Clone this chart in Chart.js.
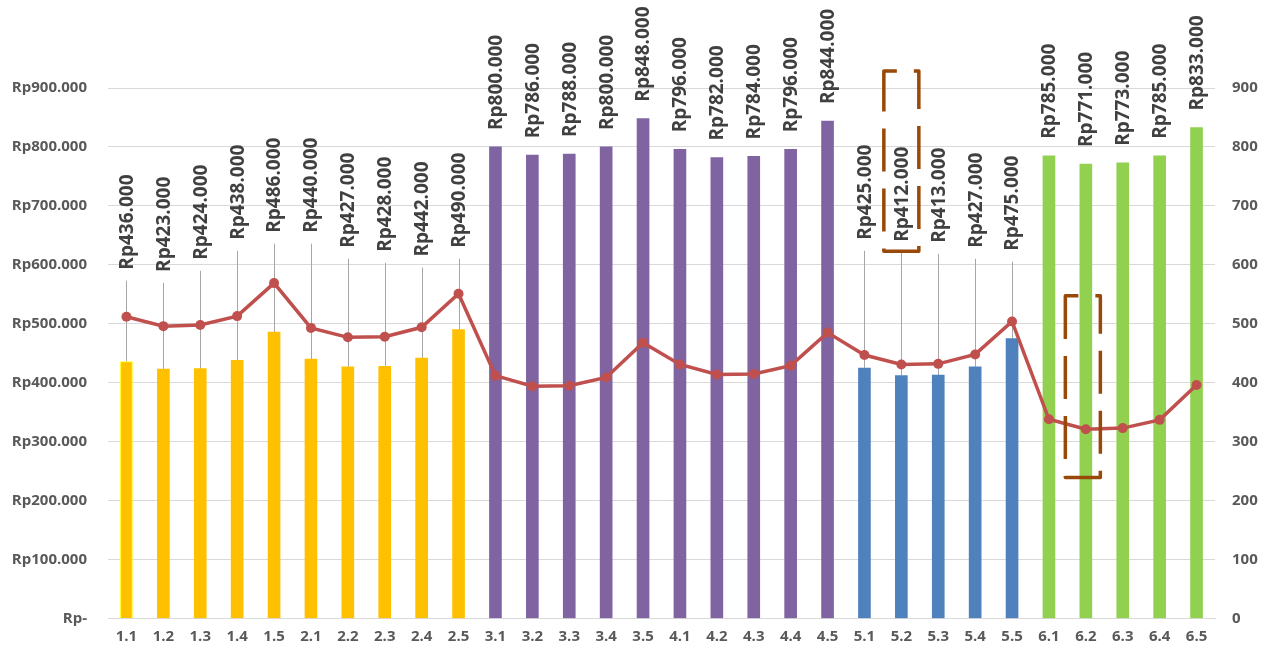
<!DOCTYPE html>
<html><head><meta charset="utf-8">
<script src="https://cdn.jsdelivr.net/npm/chart.js@4"></script>
<style>html,body{margin:0;padding:0;background:#fff;overflow:hidden}</style>
</head><body>
<canvas id="c" width="1270" height="650"></canvas>
<script>
const categories = ['1.1','1.2','1.3','1.4','1.5','2.1','2.2','2.3','2.4','2.5',
  '3.1','3.2','3.3','3.4','3.5','4.1','4.2','4.3','4.4','4.5',
  '5.1','5.2','5.3','5.4','5.5','6.1','6.2','6.3','6.4','6.5'];
const prices = [436000,423000,424000,438000,486000,440000,427000,428000,442000,490000,
  800000,786000,788000,800000,848000,796000,782000,784000,796000,844000,
  425000,412000,413000,427000,475000,785000,771000,773000,785000,833000];
const indexValues = [512,496,498,513,569,493,477,478,494,551,
  412,394,395,409,468,431,414,415,429,485,
  447,431,432,448,504,338,321,323,337,396];
const leftTicks = [0,100000,200000,300000,400000,500000,600000,700000,800000,900000];
const rightTicks = [0,100,200,300,400,500,600,700,800,900];

const groupColors = {1:'#FFC000',2:'#FFC000',3:'#8064A2',4:'#8064A2',5:'#4F81BD',6:'#92D050'};
const barColors = categories.map(c => groupColors[c.split('.')[0]]);

function rupiah(v){
  if (v === 0) return 'Rp-';
  return 'Rp' + String(v).replace(/\B(?=(\d{3})+(?!\d))/g, '.');
}

const FONT = '"Open Sans", "Noto Sans", sans-serif';

// label placement (left-axis units) for manually moved labels with leader lines
const movedLabelBase = {0:591800,1:588000,2:608600,3:642600,4:654500,5:654500,6:629000,7:622000,8:614000,9:629000,
  20:642600,21:639000,22:637500,23:629000,24:624000};

const labelPlugin = {
  id: 'barLabels',
  beforeDatasetsDraw(chart){
    const ctx = chart.ctx, meta = chart.getDatasetMeta(1), y = chart.scales.y;
    ctx.save();
    ctx.strokeStyle = '#A6A6A6'; ctx.lineWidth = 1;
    meta.data.forEach((bar, i) => {
      if (movedLabelBase[i] === undefined) return;
      const top = y.getPixelForValue(movedLabelBase[i]) + 11;
      ctx.beginPath();
      ctx.moveTo(Math.round(bar.x)+0.5, top);
      ctx.lineTo(Math.round(bar.x)+0.5, bar.y);
      ctx.stroke();
    });
    ctx.restore();
  },
  afterDatasetsDraw(chart){
    const ctx = chart.ctx, meta = chart.getDatasetMeta(1), y = chart.scales.y;
    ctx.save();
    ctx.fillStyle = '#404040';
    ctx.font = 'bold 19px ' + FONT;
    ctx.textAlign = 'left'; ctx.textBaseline = 'middle';
    meta.data.forEach((bar, i) => {
      const base = movedLabelBase[i] !== undefined ? y.getPixelForValue(movedLabelBase[i]) : bar.y - 17;
      ctx.save();
      ctx.translate(bar.x + 1, base);
      ctx.rotate(-Math.PI/2);
      ctx.fillText(rupiah(prices[i]), 0, 0);
      ctx.restore();
    });
    ctx.restore();
  }
};

const boxPlugin = {
  id: 'dashBoxes',
  afterDraw(chart){
    const ctx = chart.ctx, x = chart.scales.x;
    const boxes = [
      {index: 21, scale: 'y', from: 928800, to: 623000, dx: 0},
      {index: 26, scale: 'y1', from: 547.6, to: 239.4, dx: -3}
    ];
    ctx.save();
    ctx.strokeStyle = '#984807';
    ctx.lineWidth = 3.5;
    ctx.setLineDash([43, 17]);
    ctx.lineJoin = 'round';
    ctx.lineCap = 'butt';
    boxes.forEach(b => {
      const s = chart.scales[b.scale];
      const cx = x.getPixelForValue(b.index) + b.dx;
      const t = s.getPixelForValue(b.from), btm = s.getPixelForValue(b.to);
      const l = cx - 17.5, r = cx + 17.5;
      ctx.beginPath();
      ctx.moveTo(l, t + 30);
      ctx.lineTo(l, t);
      ctx.lineTo(r, t);
      ctx.lineTo(r, btm);
      ctx.lineTo(l, btm);
      ctx.lineTo(l, t + 30);
      ctx.stroke();
    });
    ctx.restore();
  }
};

new Chart(document.getElementById('c'), {
  data: {
    labels: categories,
    datasets: [
      {
        type: 'line', yAxisID: 'y1', order: 0,
        data: indexValues,
        borderColor: '#C0504D', backgroundColor: '#C0504D',
        borderWidth: 3.5, pointRadius: 5, pointHoverRadius: 5,
        pointBackgroundColor: '#C0504D', pointBorderWidth: 0,
        tension: 0
      },
      {
        type: 'bar', yAxisID: 'y', order: 1,
        data: prices,
        backgroundColor: barColors,
        borderColor: categories.map((c,i) => i === 0 ? '#FFFF00' : barColors[i]),
        borderWidth: categories.map((c,i) => i === 0 ? 1 : 0),
        barThickness: 12
      }
    ]
  },
  options: {
    responsive: false,
    animation: false,
    layout: { padding: { top: 88, left: 0, right: 0, bottom: 0 } },
    plugins: { legend: { display: false }, tooltip: { enabled: false } },
    scales: {
      x: {
        grid: { display: false, drawTicks: false },
        border: { display: true, color: '#D9D9D9', width: 1 },
        ticks: { color: '#595959', font: { family: FONT, size: 15, weight: 'bold' }, padding: 9, maxRotation: 0, autoSkip: false },
        afterFit(s){ s.height = 31.5; }
      },
      y: {
        position: 'left', min: 0, max: 900000,
        afterBuildTicks(s){ s.ticks = leftTicks.map(v => ({value: v})); },
        grid: { color: '#D9D9D9', lineWidth: 1, drawTicks: false },
        border: { display: false },
        ticks: { color: '#595959', font: { family: FONT, size: 15, weight: 'bold' }, padding: 21, callback: v => rupiah(v) },
        afterFit(s){ s.width = 108; }
      },
      y1: {
        position: 'right', min: 0, max: 900,
        afterBuildTicks(s){ s.ticks = rightTicks.map(v => ({value: v})); },
        grid: { display: false, drawTicks: false },
        border: { display: false },
        ticks: { color: '#595959', font: { family: FONT, size: 15, weight: 'bold' }, padding: 17 },
        afterFit(s){ s.width = 55; }
      }
    }
  },
  plugins: [labelPlugin, boxPlugin]
});
</script>
</body></html>
